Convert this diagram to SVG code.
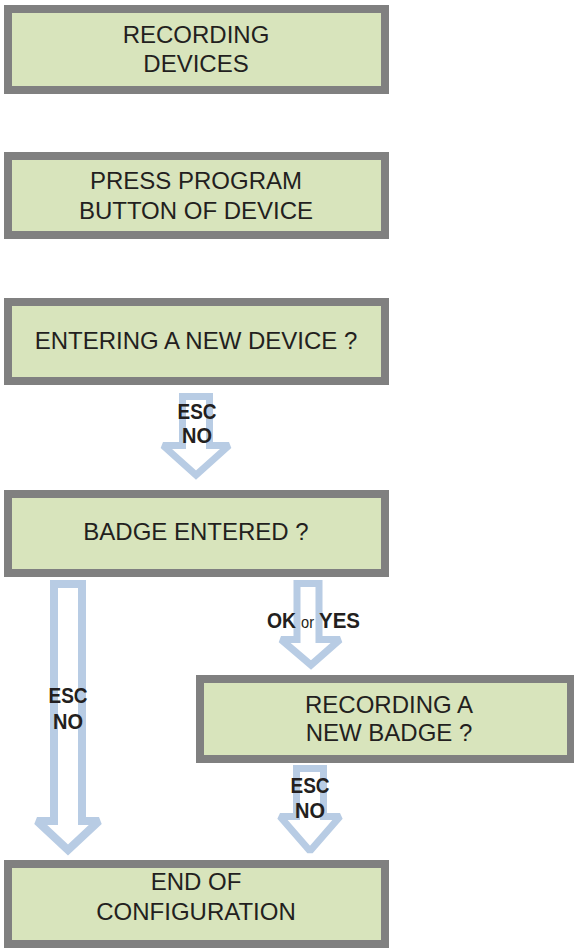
<svg xmlns="http://www.w3.org/2000/svg" width="574" height="948" viewBox="0 0 574 948">
<style>
.box{fill:#d8e4bc;stroke:#808080;stroke-width:8}
.t{font-family:"Liberation Sans",Arial,sans-serif;font-size:24px;fill:#231f20;text-anchor:middle}
.arr{fill:none;stroke:#b8cce4;stroke-width:7;stroke-linejoin:miter;stroke-miterlimit:1.5}
.lb{font-family:"Liberation Sans",Arial,sans-serif;font-size:22px;font-weight:bold;fill:#231f20;text-anchor:middle}
.ls{font-family:"Liberation Sans",Arial,sans-serif;font-size:22px;font-weight:bold;fill:#231f20}
.sm{font-family:"Liberation Sans",Arial,sans-serif;font-size:17px;fill:#231f20}
</style>
<rect width="574" height="948" fill="#ffffff"/>
<g id="connectors">
<polygon class="arr" points="182.5,396.5 209.5,396.5 209.5,445.5 229,445.5 196,475 163,445.5 182.5,445.5"/>
<polygon class="arr" style="stroke-width:8" points="54,584 82,584 82,821 99,821 68,850 37,821 54,821"/>
<polygon class="arr" points="297,583.5 319,583.5 319,639.5 340,639.5 311,665 281,639.5 297,639.5"/>
<polygon class="arr" points="296.5,768.5 323.5,768.5 323.5,816.5 340,816.5 310,851 280,816.5 296.5,816.5"/>
</g>
<g id="labels">
<text class="lb" x="197" y="419" textLength="39" lengthAdjust="spacingAndGlyphs">ESC</text>
<text class="lb" x="197" y="443" textLength="30" lengthAdjust="spacingAndGlyphs">NO</text>
<text class="lb" x="68" y="703" textLength="39" lengthAdjust="spacingAndGlyphs">ESC</text>
<text class="lb" x="68" y="729" textLength="30" lengthAdjust="spacingAndGlyphs">NO</text>
<text class="ls" x="267" y="628" textLength="29" lengthAdjust="spacingAndGlyphs">OK</text>
<text class="sm" x="301" y="628" textLength="13" lengthAdjust="spacingAndGlyphs">or</text>
<text class="ls" x="319" y="628" textLength="41" lengthAdjust="spacingAndGlyphs">YES</text>
<text class="lb" x="310" y="793" textLength="39" lengthAdjust="spacingAndGlyphs">ESC</text>
<text class="lb" x="310" y="818" textLength="30" lengthAdjust="spacingAndGlyphs">NO</text>
</g>
<g id="n1"><rect class="box" x="8" y="9" width="377" height="81"/><text class="t" x="196" y="43">RECORDING</text><text class="t" x="196" y="72">DEVICES</text></g>
<g id="n2"><rect class="box" x="8" y="156" width="377" height="79"/><text class="t" x="196" y="189">PRESS PROGRAM</text><text class="t" x="196" y="219">BUTTON OF DEVICE</text></g>
<g id="n3"><rect class="box" x="8" y="302" width="377" height="79"/><text class="t" x="196" y="349">ENTERING A NEW DEVICE ?</text></g>
<g id="n4"><rect class="box" x="8" y="494" width="377" height="79"/><text class="t" x="196" y="540">BADGE ENTERED ?</text></g>
<g id="n5"><rect class="box" x="200" y="679" width="371" height="80"/><text class="t" x="389" y="713">RECORDING A</text><text class="t" x="389" y="741">NEW BADGE ?</text></g>
<g id="n6"><rect class="box" x="8" y="864" width="377" height="80"/><text class="t" x="196" y="890">END OF</text><text class="t" x="196" y="920">CONFIGURATION</text></g>
</svg>
